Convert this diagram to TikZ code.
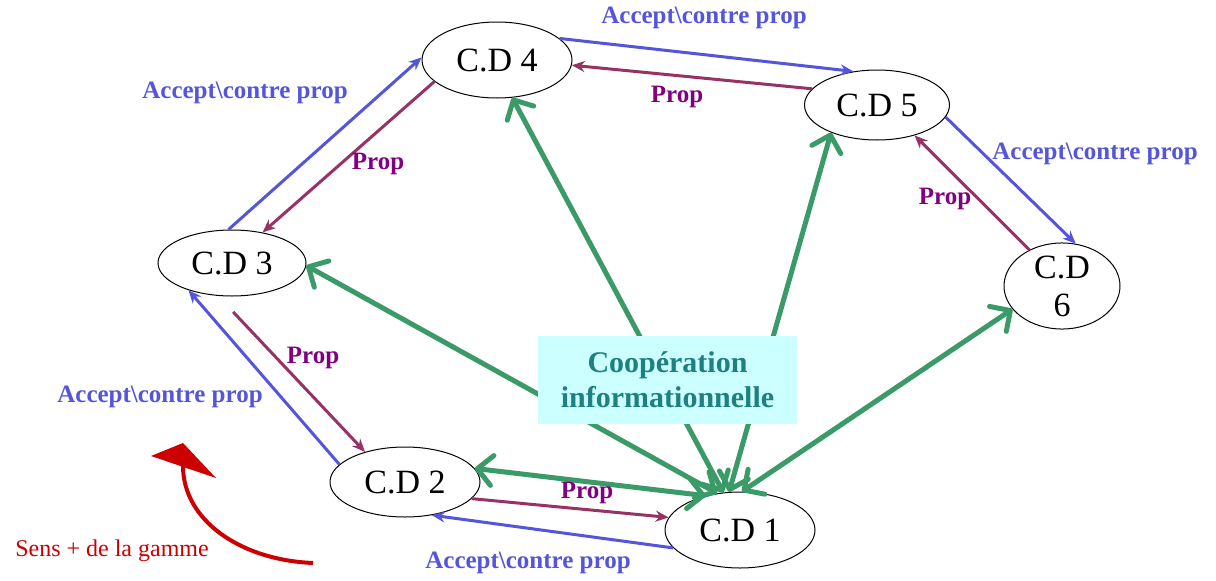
\documentclass[tikz,border=0pt]{standalone}
\usepackage{fontspec}
\setmainfont{Liberation Serif}
\usetikzlibrary{shapes.geometric,arrows.meta}
\definecolor{cdblue}{RGB}{85,85,220}
\definecolor{cdpurple}{RGB}{150,50,100}
\definecolor{proptext}{RGB}{128,0,128}
\definecolor{coopgreen}{RGB}{58,154,104}
\definecolor{boxfill}{RGB}{204,255,255}
\definecolor{boxtext}{RGB}{30,128,128}
\definecolor{gammered}{RGB}{204,0,0}
\begin{document}
\begin{tikzpicture}[x=1pt,y=-1pt,
  cd/.style={ellipse,draw=black,line width=1pt,fill=white,inner sep=0pt,
    font=\fontsize{34}{40}\selectfont},
  accept/.style={draw=cdblue,line width=3pt,-{Stealth[length=13pt,width=11pt]}},
  propline/.style={draw=cdpurple,line width=3pt,-{Stealth[length=13pt,width=11pt]}},
  acclabel/.style={text=cdblue,font=\fontsize{25}{30}\selectfont\bfseries},
  proplabel/.style={text=proptext,font=\fontsize{25}{30}\selectfont\bfseries},
  coop/.style={draw=coopgreen,line width=5pt,line cap=round,
    {Straight Barb[length=15pt,width=30pt,round]}-{Straight Barb[length=15pt,width=30pt,round]}},
]
\useasboundingbox (0,0) rectangle (1216,581);

% decision centres
\node[cd,minimum width=150pt,minimum height=76pt] (cd4) at (497,60) {C.D 4};
\node[cd,minimum width=145pt,minimum height=70pt] (cd5) at (877,105) {C.D 5};
\node[cd,minimum width=148pt,minimum height=66pt] (cd3) at (232,263) {C.D 3};
\node[cd,minimum width=116pt,minimum height=80pt,align=center] (cd6) at (1062,286) {C.D\\[-2pt]6};
\node[cd,minimum width=150pt,minimum height=70pt] (cd2) at (405,482) {C.D 2};
\node[cd,minimum width=150pt,minimum height=76pt] (cd1) at (740,530) {C.D 1};

% informational cooperation links
\draw[coop] (cd1.135) -- (cd2.11);
\draw[coop] (cd1.122) -- (cd3.358);
\draw[coop] (cd1.114) -- (cd4.292);
\draw[coop] (cd1.106) -- (cd5.211);
\draw[coop] (cd1.87) -- (cd6.205);

% proposals and answers around the ring
\draw[accept] (cd3.96) -- (cd4.178);
\draw[propline] (cd4.199) -- (cd3.45);
\draw[accept] (cd4.19) -- (cd5.125);
\draw[propline] (cd5.166) -- (cd4.356);
\draw[accept] (cd5.350) -- (cd6.72);
\draw[propline] (cd6.132) -- (cd5.321);
\draw[accept] (cd2.165) -- (cd3.212);
\draw[propline, shorten <=22pt] (cd3.247) -- (cd2.143);
\draw[accept] (cd1.195) -- (cd2.309);
\draw[propline] (cd2.346) -- (cd1.170);

% link labels
\node[acclabel] (a34) at (245,93) {Accept\textbackslash contre prop};
\node[acclabel] (a45) at (704,18) {Accept\textbackslash contre prop};
\node[acclabel] (a56) at (1095,154) {Accept\textbackslash contre prop};
\node[acclabel] (a23) at (160,397) {Accept\textbackslash contre prop};
\node[acclabel] (a12) at (528,563) {Accept\textbackslash contre prop};
\node[proplabel] (p43) at (378,164) {Prop};
\node[proplabel] (p54) at (677,97) {Prop};
\node[proplabel] (p65) at (945,199) {Prop};
\node[proplabel] (p32) at (313,358) {Prop};
\node[proplabel] (p21) at (587,493) {Prop};

% central box
\node[fill=boxfill,text=boxtext,minimum width=259pt,minimum height=88pt,
  align=center,font=\fontsize{30}{35}\selectfont\bfseries] (coopbox) at (667.5,380)
  {Coopération\\informationnelle};

% range direction
\draw[gammered,line width=4pt] (313,563) .. controls (240,560) and (183,520) .. (183,466);
\fill[gammered] (151,456) -- (183,443) -- (216,478) -- cycle;
\node[text=gammered,font=\fontsize{24}{28}\selectfont] (gamme) at (112,551) {Sens + de la gamme};
\end{tikzpicture}
\end{document}
